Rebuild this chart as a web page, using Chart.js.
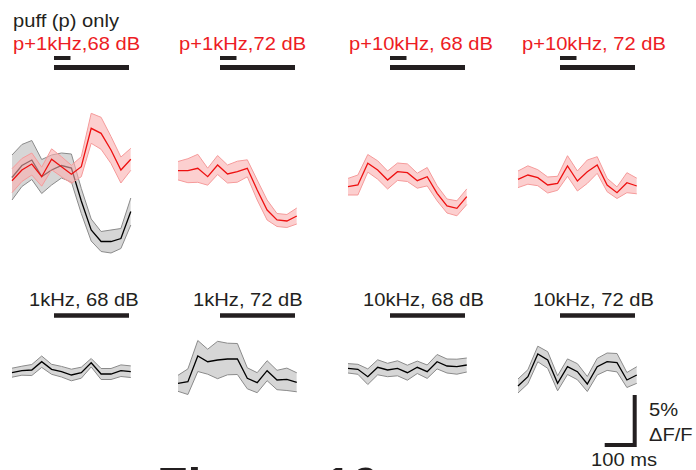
<!DOCTYPE html>
<html>
<head>
<meta charset="utf-8">
<script src="https://cdn.jsdelivr.net/npm/chart.js@4.4.0/dist/chart.umd.min.js"></script>
<style>
  html, body { margin: 0; padding: 0; background: #fff; }
  body { width: 696px; height: 470px; position: relative; overflow: hidden;
         font-family: "Liberation Sans", Arial, sans-serif; }
  canvas { position: absolute; }
  .lbl { position: absolute; font-size: 19px; line-height: 19px; white-space: nowrap;
         color: #231f20; transform-origin: left top; transform: scaleX(1.06); }
  .red { color: #ed1c24; }
  .fig { position: absolute; font-size: 50px; line-height: 50px; font-weight: bold;
         color: #231f20; white-space: nowrap; }
</style>
</head>
<body>
<script>
// frame times (ms from stimulus onset), ~30 Hz imaging
const frameTimes = [-140, -107, -74, -41, -8, 25, 58, 91, 124, 157, 190, 223, 256];

// stimulus on/off (ms)
const puffOnOff = [0, 55];
const soundOnOff = [0, 250];

// scale bar
const scaleMs = 100;
const scalePct = 5;

// dF/F (%) mean and sem, top row (puff + sound, red)
const puffOnlyMean = [-0.75, 0.45, 1.0, -0.65, 0, 0.45, 0.2, -3.1, -6.0, -7.15, -7.15, -6.85, -4.15];
const puffOnlySem  = [2.25, 2.1, 1.95, 1.7, 1.5, 1.25, 1.4, 1.25, 1.1, 1.0, 1.15, 1.0, 1.35];
const p1k68Mean  = [-1.07, 0, 0.6, -0.67, 1.07, 0.33, -0.43, 0.33, 4.17, 3.67, 2.0, 0, 1.07];
const p1k68Sem   = [1.2, 1.15, 1.1, 0.95, 1.05, 1.0, 0.9, 1.0, 1.5, 1.6, 1.35, 1.3, 1.1];
const p1k72Mean  = [-0.07, -0.07, 0.17, -0.67, 0.5, -0.4, -0.17, 0.17, -2.0, -4.0, -5.0, -5.1, -4.6];
const p1k72Sem   = [0.92, 1.2, 1.4, 0.85, 0.95, 0.9, 1.05, 0.85, 1.0, 1.0, 0.65, 0.65, 0.8];
const p10k68Mean = [-1.67, -1.5, 0.67, 0, -1.0, -0.17, -0.27, -1.07, -0.67, -2.33, -3.6, -3.83, -2.67];
const p10k68Sem  = [0.83, 1.0, 0.88, 0.92, 0.9, 0.87, 0.88, 0.75, 0.92, 0.75, 0.7, 0.75, 0.78];
const p10k72Mean = [-0.93, -0.5, -0.77, -1.5, -1.33, 0.4, -1.1, -0.17, 0.5, -1.5, -2.27, -1.27, -1.6];
const p10k72Sem  = [0.83, 0.92, 0.8, 0.8, 0.7, 1.03, 1.0, 1.17, 0.83, 0.67, 0.58, 1.0, 0.78];

// bottom row (sound only, black)
const s1k68Mean  = [-0.27, -0.07, 0, 0.83, 0.07, -0.17, -0.5, -0.27, 0.73, -0.4, -0.4, -0.07, -0.17];
const s1k68Sem   = [0.45, 0.45, 0.55, 0.57, 0.5, 0.53, 0.58, 0.55, 0.42, 0.55, 0.55, 0.58, 0.58];
const s1k72Mean  = [-1.33, -1.17, 1.4, 0.83, 1.0, 1.1, 1.1, -0.83, -1.27, -0.07, -1.0, -0.93, -1.23];
const s1k72Sem   = [0.8, 1.28, 1.55, 1.25, 1.87, 1.58, 1.55, 1.05, 1.0, 1.0, 0.97, 1.12, 0.95];
const s10k68Mean = [0.17, 0.07, -0.67, 0.27, 0, 0.17, -0.27, 0.27, -0.17, 0.83, 0.4, 0.33, 0.5];
const s10k68Sem  = [0.47, 0.5, 0.78, 0.75, 0.67, 0.75, 0.75, 0.62, 0.67, 0.72, 0.7, 0.75, 0.7];
const s10k72Mean = [-1.6, -0.67, 1.6, 1.0, -1.33, 0.33, -0.17, -1.4, 0.33, 0.83, 0.73, -1.0, -0.5];
const s10k72Sem  = [0.7, 0.7, 0.78, 0.83, 0.75, 0.78, 0.8, 0.75, 0.83, 0.87, 0.92, 0.75, 0.83];

// layout
const pxPerMs = 0.3;
const pxPerPct = 10;
const colX = [11.5, 178.3, 348, 518]; // page x of first frame
const rows = [
  { top: 40, height: 235, zeroY: 170,
    bars: [{ t: puffOnOff, y: 58, h: 4 }, { t: soundOnOff, y: 67.5, h: 5 }] },
  { top: 300, height: 100, zeroY: 370,
    bars: [{ t: soundOnOff, y: 315.5, h: 4.5 }] }
];

const RED = { line: "#ee1111", edge: "#f59a9a", fill: "rgba(250, 175, 175, 0.6)" };
const GRAY = { line: "#000000", edge: "#8a8a8a", fill: "rgba(200, 200, 200, 0.75)" };

const panels = [
  { row: 0, col: 0, traces: [[puffOnlyMean, puffOnlySem, GRAY], [p1k68Mean, p1k68Sem, RED]] },
  { row: 0, col: 1, traces: [[p1k72Mean, p1k72Sem, RED]] },
  { row: 0, col: 2, traces: [[p10k68Mean, p10k68Sem, RED]] },
  { row: 0, col: 3, traces: [[p10k72Mean, p10k72Sem, RED]] },
  { row: 1, col: 0, traces: [[s1k68Mean, s1k68Sem, GRAY]] },
  { row: 1, col: 1, traces: [[s1k72Mean, s1k72Sem, GRAY]] },
  { row: 1, col: 2, traces: [[s10k68Mean, s10k68Sem, GRAY]] },
  { row: 1, col: 3, traces: [[s10k72Mean, s10k72Sem, GRAY]] }
];

// labels: text, class, left, baseline
const labels = [
  ["puff (p) only", "", 12.7, 27],
  ["p+1kHz,68 dB", "red", 12.7, 50],
  ["p+1kHz,72 dB", "red", 179.3, 50],
  ["p+10kHz, 68 dB", "red", 349.3, 50],
  ["p+10kHz, 72 dB", "red", 522.3, 50],
  ["1kHz, 68 dB", "", 29.3, 306],
  ["1kHz, 72 dB", "", 193.3, 306],
  ["10kHz, 68 dB", "", 363, 306],
  ["10kHz, 72 dB", "", 533, 306],
  ["5%", "", 648.7, 416],
  ["\u0394F/F", "", 648.7, 441.5],
  ["100 ms", "", 591, 466.5]
];

labels.forEach(([txt, cls, x, base]) => {
  const d = document.createElement("div");
  d.className = "lbl " + cls;
  d.textContent = txt;
  d.style.left = x + "px";
  d.style.top = (base - 16.1) + "px";
  document.body.appendChild(d);
});

const fig = document.createElement("div");
fig.className = "fig";
fig.textContent = "Figure 10";
fig.style.left = "157px";
fig.style.top = "461px";
document.body.appendChild(fig);

// stimulus bars drawn on the x scale
const stimBars = {
  id: "stimBars",
  afterDraw(chart, args, opts) {
    const ctx = chart.ctx, xs = chart.scales.x;
    (opts.bars || []).forEach(b => {
      const x1 = xs.getPixelForValue(b.t[0]);
      const x2 = xs.getPixelForValue(b.t[1]);
      ctx.save();
      ctx.fillStyle = "#231f20";
      ctx.fillRect(x1, b.y - b.h / 2, x2 - x1, b.h);
      ctx.restore();
    });
  }
};

function addCanvas(left, top, w, h) {
  const cv = document.createElement("canvas");
  cv.width = w; cv.height = h;
  cv.style.left = left + "px";
  cv.style.top = top + "px";
  document.body.appendChild(cv);
  return cv;
}

function baseOptions(xMin, xMax, yMin, yMax) {
  return {
    responsive: false,
    maintainAspectRatio: false,
    animation: false,
    events: [],
    layout: { padding: 0 },
    scales: {
      x: { type: "linear", min: xMin, max: xMax, display: false },
      y: { type: "linear", min: yMin, max: yMax, display: false }
    },
    plugins: { legend: { display: false }, tooltip: { enabled: false } }
  };
}

panels.forEach(p => {
  const row = rows[p.row];
  const padL = 12, w = 150;
  const cv = addCanvas(colX[p.col] - padL, row.top, w, row.height);
  const xMin = frameTimes[0] - padL / pxPerMs;
  const xMax = xMin + w / pxPerMs;
  const yMax = (row.zeroY - row.top) / pxPerPct;
  const yMin = yMax - row.height / pxPerPct;

  const datasets = [];
  p.traces.forEach(([mean, sem, c], k) => {
    const base = 10 - k * 5;
    const idx = datasets.length;
    const pts = f => frameTimes.map((t, i) => ({ x: t, y: f(i) }));
    const common = { pointRadius: 0, tension: 0, clip: false };
    datasets.push({ ...common, data: pts(i => mean[i] + sem[i]), borderColor: c.edge,
      borderWidth: 1, backgroundColor: c.fill, fill: { target: idx + 1 }, order: base });
    datasets.push({ ...common, data: pts(i => mean[i] - sem[i]), borderColor: c.edge,
      borderWidth: 1, fill: false, order: base - 0.1 });
    datasets.push({ ...common, data: pts(i => mean[i]), borderColor: c.line,
      borderWidth: 1.3, fill: false, order: base - 0.2 });
  });

  const opts = baseOptions(xMin, xMax, yMin, yMax);
  opts.plugins.stimBars = {
    bars: row.bars.map(b => ({ t: b.t, y: b.y - row.top, h: b.h }))
  };
  new Chart(cv.getContext("2d"), {
    type: "line",
    data: { datasets },
    options: opts,
    plugins: [stimBars]
  });
});

// scale bar (L shape: 5% vertical, 100 ms horizontal)
(function () {
  const left = 590, top = 390, w = 106, h = 80;
  const cornerX = 634.7, cornerY = 445;
  const cv = addCanvas(left, top, w, h);
  const xMin = scaleMs - (cornerX - left) / pxPerMs;
  const yMax = (cornerY - top) / pxPerPct;
  const opts = baseOptions(xMin, xMin + w / pxPerMs, yMax - h / pxPerPct, yMax);
  new Chart(cv.getContext("2d"), {
    type: "line",
    data: {
      datasets: [{
        data: [{ x: scaleMs, y: scalePct }, { x: scaleMs, y: 0 }, { x: 0, y: 0 }],
        borderColor: "#231f20", borderWidth: 4, borderJoinStyle: "miter",
        borderCapStyle: "butt", pointRadius: 0, fill: false, clip: false
      }]
    },
    options: opts
  });
})();
</script>
</body>
</html>
